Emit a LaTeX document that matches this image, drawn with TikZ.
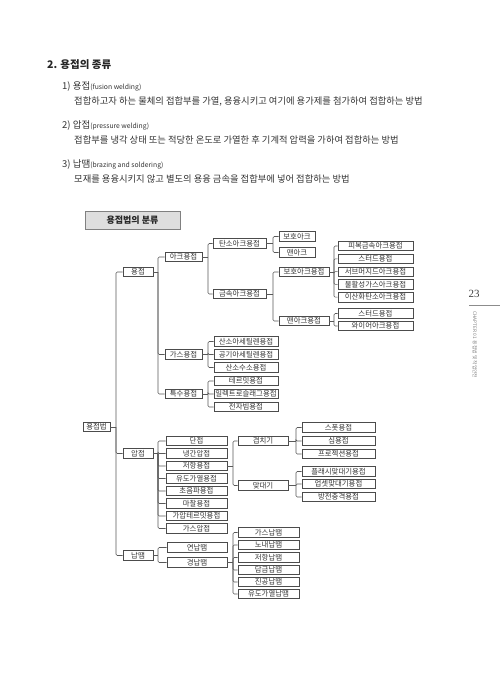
\documentclass[tikz,border=0pt]{standalone}
\usepackage{fontspec}
\setmainfont{Noto Sans CJK KR}
\newfontfamily\numfont{Liberation Serif}
\usetikzlibrary{shadows}
\begin{document}
\begin{tikzpicture}[x=1pt,y=-1pt,
  box/.style={draw=black!70, fill=white, line width=0.55pt, minimum height=9.5pt,
    inner sep=0pt, font=\fontsize{7.4}{7.4}\selectfont, text=black!80,
    drop shadow={shadow xshift=0.5pt, shadow yshift=-0.5pt, fill=black!35, opacity=1}},
  conn/.style={draw=black!65, line width=0.55pt, rounded corners=1.2pt},
  txt/.style={anchor=west, inner sep=0pt, text=black!80},
  body/.style={txt, font=\fontsize{9.3}{9.3}\selectfont},
]
\useasboundingbox (0,0) rectangle (500,683);

% ---- text header ----
\node[txt, font=\fontsize{10.5}{10.5}\selectfont\bfseries, text=black!85] (head) at (47,65) {2. 용접의 종류};
\node[txt] (s1) at (62,86) {{\fontsize{9.5}{9.5}\selectfont 1) 용접}{\fontsize{6.8}{6.8}\selectfont (fusion welding)}};
\node[body] (b1) at (74,101) {접합하고자 하는 물체의 접합부를 가열, 용융시키고 여기에 용가제를 첨가하여 접합하는 방법};
\node[txt] (s2) at (62,125) {{\fontsize{9.5}{9.5}\selectfont 2) 압접}{\fontsize{6.8}{6.8}\selectfont (pressure welding)}};
\node[body] (b2) at (74,140) {접합부를 냉각 상태 또는 적당한 온도로 가열한 후 기계적 압력을 가하여 접합하는 방법};
\node[txt] (s3) at (62,164) {{\fontsize{9.5}{9.5}\selectfont 3) 납땜}{\fontsize{6.8}{6.8}\selectfont (brazing and soldering)}};
\node[body] (b3) at (74,179) {모재를 용융시키지 않고 별도의 용융 금속을 접합부에 넣어 접합하는 방법};

% ---- side ----
\node[inner sep=0pt, font=\numfont\fontsize{11}{11}\selectfont, text=black!75] (pg) at (474,294) {23};
\coordinate (pl1) at (469,305);
\coordinate (pl2) at (500,305);
\draw[black!45, line width=0.6pt] (pl1) -- (pl2);
\node[inner sep=0pt, rotate=-90, anchor=west, font=\fontsize{4.8}{4.8}\selectfont, text=black!50] (chap) at (475,311) {CHAPTER 01\ \ 용접법 및 작업안전};

% ---- title box ----
\node[draw=black!50, fill=black!13, line width=0.6pt, minimum width=95pt, minimum height=18pt,
  inner sep=0pt, font=\fontsize{9}{9}\selectfont\bfseries, text=black!85] (title) at (132.5,220) {용접법의 분류};

% ---- tree nodes ----
\node[box, minimum width=27pt] (root) at (96.5,427) {용접법};

\node[box, minimum width=30pt] (yung) at (138,272) {용접};
\node[box, minimum width=30pt] (ap) at (138,453.5) {압접};
\node[box, minimum width=30pt] (nap) at (138,555.5) {납땜};

\node[box, minimum width=37pt] (arc) at (183.5,257) {아크용접};
\node[box, minimum width=37pt] (gas) at (183.5,354.5) {가스용접};
\node[box, minimum width=37pt] (spec) at (183.5,394) {특수용접};

\node[box, minimum width=53pt] (carbon) at (239.5,243.5) {탄소아크용접};
\node[box, minimum width=53pt] (metal) at (239.5,294) {금속아크용접};

\node[box, minimum width=36pt] (ca1) at (297,236.5) {보호아크};
\node[box, minimum width=36pt] (ca2) at (297,252.5) {맨아크};

\node[box, minimum width=50pt] (ma1) at (304,272) {보호아크용접};
\node[box, minimum width=50pt] (ma2) at (304,321) {맨아크용접};

\node[box, minimum width=75pt] (p1) at (375.5,246) {피복금속아크용접};
\node[box, minimum width=75pt] (p2) at (375.5,258.8) {스터드용접};
\node[box, minimum width=75pt] (p3) at (375.5,271.6) {서브머지드아크용접};
\node[box, minimum width=75pt] (p4) at (375.5,284.4) {불활성가스아크용접};
\node[box, minimum width=75pt] (p5) at (375.5,297.2) {이산화탄소아크용접};

\node[box, minimum width=75pt] (q1) at (375.5,313.5) {스터드용접};
\node[box, minimum width=75pt] (q2) at (375.5,326) {와이어아크용접};

\node[box, minimum width=64pt] (g1) at (246,341.5) {산소아세틸렌용접};
\node[box, minimum width=64pt] (g2) at (246,354.5) {공기아세틸렌용접};
\node[box, minimum width=64pt] (g3) at (246,367.5) {산소수소용접};

\node[box, minimum width=64pt] (t1) at (246,381) {테르밋용접};
\node[box, minimum width=64pt] (t2) at (246,394) {일렉트로슬래그용접};
\node[box, minimum width=64pt] (t3) at (246,407) {전자빔용접};

\node[box, minimum width=61pt] (a1) at (196.5,441) {단접};
\node[box, minimum width=61pt] (a2) at (196.5,453.5) {냉간압접};
\node[box, minimum width=61pt] (a3) at (196.5,466) {저항용접};
\node[box, minimum width=61pt] (a4) at (196.5,478.5) {유도가열용접};
\node[box, minimum width=61pt] (a5) at (196.5,491) {초음파용접};
\node[box, minimum width=61pt] (a6) at (196.5,503.5) {마찰용접};
\node[box, minimum width=61pt] (a7) at (196.5,516) {가압테르밋용접};
\node[box, minimum width=61pt] (a8) at (196.5,528.5) {가스압접};

\node[box, minimum width=50pt] (gy) at (263,441) {겹치기};
\node[box, minimum width=50pt] (mt) at (263,485.5) {맞대기};

\node[box, minimum width=73pt] (gy1) at (338.5,427.5) {스폿용접};
\node[box, minimum width=73pt] (gy2) at (338.5,441) {심용접};
\node[box, minimum width=73pt] (gy3) at (338.5,454) {프로젝션용접};

\node[box, minimum width=73pt] (mt1) at (338.5,471.5) {플래시맞대기용접};
\node[box, minimum width=73pt] (mt2) at (338.5,484) {업셋맞대기용접};
\node[box, minimum width=73pt] (mt3) at (338.5,497) {방전충격용접};

\node[box, minimum width=60pt] (n1) at (197,547.5) {연납땜};
\node[box, minimum width=60pt] (n2) at (197,562.5) {경납땜};

\node[box, minimum width=61pt] (k1) at (268.5,532.5) {가스납땜};
\node[box, minimum width=61pt] (k2) at (268.5,545) {노내납땜};
\node[box, minimum width=61pt] (k3) at (268.5,557.5) {저항납땜};
\node[box, minimum width=61pt] (k4) at (268.5,570) {담금납땜};
\node[box, minimum width=61pt] (k5) at (268.5,582) {진공납땜};
\node[box, minimum width=61pt] (k6) at (268.5,594) {유도가열납땜};

% ---- connectors ----
\newcommand\mybrk[3]{%
  \coordinate (X#1) at (#2,0);
  \coordinate (J#1) at (#1.east -| X#1);
  \draw[conn] (#1.east) -- (J#1);
  \foreach \c in {#3} { \draw[conn] (J#1) |- (\c.west); }
}
\mybrk{root}{116}{yung,ap,nap}
\mybrk{yung}{158}{arc,gas,spec}
\mybrk{arc}{208}{carbon,metal}
\mybrk{carbon}{273}{ca1,ca2}
\mybrk{metal}{273}{ma1,ma2}
\mybrk{ma1}{334}{p1,p2,p3,p4,p5}
\mybrk{ma2}{334}{q1,q2}
\mybrk{gas}{208}{g1,g2,g3}
\mybrk{spec}{208}{t1,t2,t3}
\mybrk{ap}{158}{a1,a2,a3,a4,a5,a6,a7,a8}
\mybrk{a3}{233}{gy,mt}
\mybrk{gy}{296}{gy1,gy2,gy3}
\mybrk{mt}{296}{mt1,mt2,mt3}
\mybrk{nap}{158}{n1,n2}
\mybrk{n2}{233}{k1,k2,k3,k4,k5,k6}
\end{tikzpicture}
\end{document}
